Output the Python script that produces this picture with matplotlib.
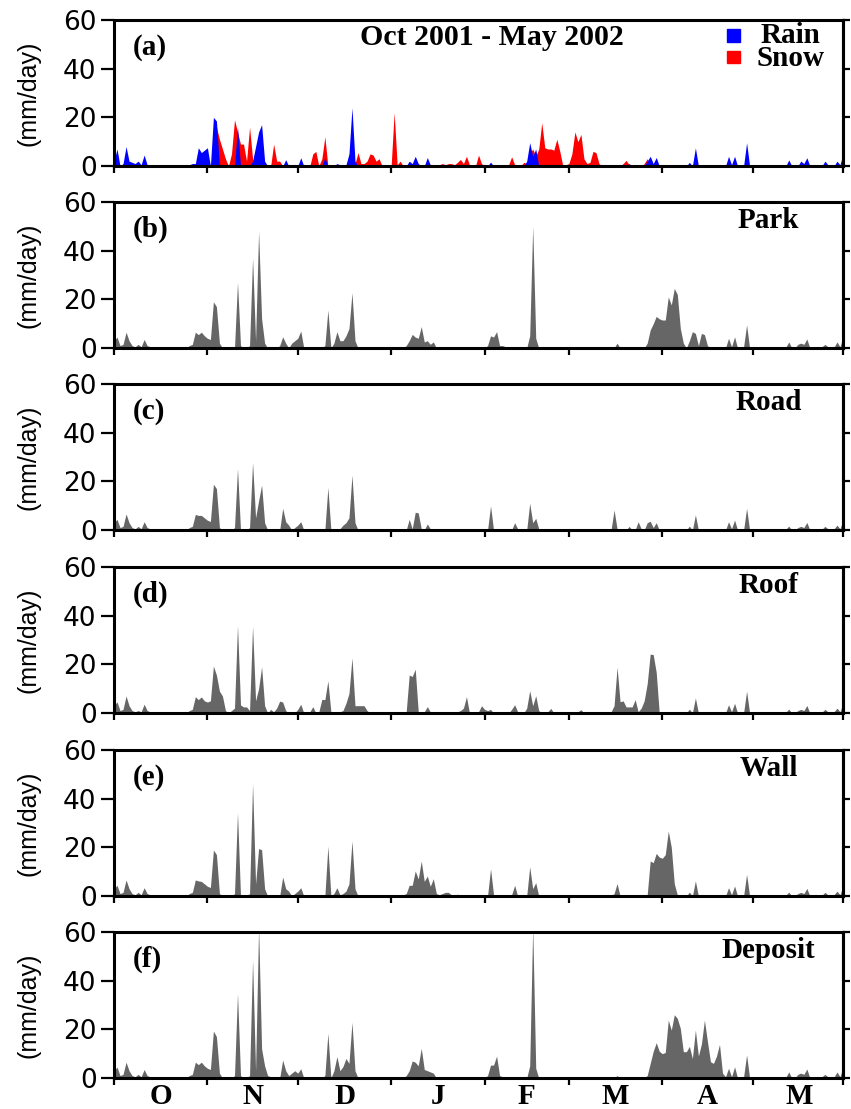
import numpy as np
import matplotlib
matplotlib.use("Agg")
import matplotlib.pyplot as plt
from matplotlib.patches import Rectangle

# Daily values (mm/day), 1 Oct 2001 .. 31 May 2002, one row per month
rain = [
    2, 7, 0, 1, 8, 2, 1.5, 1, 2, 0.5, 4.5, 0.5, 0, 0, 0.5, 0.3, 0, 0, 0, 0, 0, 0, 0, 0, 0, 0.5, 1, 1, 7.5, 5.5, 6.5,
    7.5, 0, 20, 18.5, 0, 0, 0, 0, 0, 0, 16, 0, 0, 0, 0, 2, 8, 14, 17, 2, 0, 0, 0, 0, 0, 0, 2.6, 0, 0, 0,
    0, 3.4, 0, 0, 0, 0, 0, 0, 0, 3.4, 0, 0, 0, 1, 0.5, 0, 0.5, 5, 24, 2, 0, 0, 0, 0, 0, 0, 0, 0, 0, 0, 0,
    0, 0, 0, 0, 0, 0, 2, 1, 4, 1, 0, 0, 3.5, 0.5, 0, 0, 0, 0, 0, 0, 0, 0, 0, 0, 0, 0, 0, 0, 0, 0, 0,
    0, 0, 1.6, 0, 0, 0, 0, 0, 0, 0, 0, 0, 0, 0, 2, 9.6, 4, 7, 0, 0, 0, 0, 0, 0, 0, 0, 0, 0,
    0, 0, 0, 0, 0, 0, 0, 0, 0, 0, 0, 0, 0, 0, 0, 0, 0, 0, 0, 0, 1, 0, 0, 0, 0, 0, 2, 4, 1, 3.5, 0,
    0, 0, 0, 0, 0, 0.3, 0, 0, 0, 1.5, 0, 7.5, 0, 0, 0, 0, 0, 0, 0, 0, 0, 0, 4, 0.5, 4, 0, 0, 0, 9.6, 0,
    0, 0.3, 0, 0, 0.3, 0, 0, 0, 0, 0, 0, 0, 2.5, 0, 0, 0, 2, 1, 3.4, 0, 0, 0, 0, 0, 2, 0.5, 0, 0, 2, 0.5, 5,
]
snow = [
    0, 0, 0, 0, 0, 0, 0, 0, 0, 0, 0, 0, 0, 0, 0, 0, 0, 0, 0, 0, 0, 0, 0, 0, 0, 0, 0, 0, 0, 0, 0,
    0, 0, 0, 16, 11, 7, 3, 0, 5, 19, 14, 9, 9, 2, 16, 3, 0, 0, 0, 0, 0, 0, 9, 2, 2, 0, 0, 0, 0, 0,
    0, 0, 0, 0, 0, 5, 6, 0, 3, 12, 0, 0, 0, 0, 0, 0, 0, 0, 0, 1, 5.5, 1, 1, 2, 5, 4.5, 2, 3, 0, 0, 0,
    0, 22, 0.5, 2, 0, 0, 0, 0, 0, 0, 0, 0, 0, 0, 0, 0, 0.5, 1, 0.5, 1, 1, 0.5, 1.5, 2.7, 1, 4, 0.5, 0, 0, 4.5, 1,
    0, 0, 0, 0, 0, 0, 0, 0, 0.5, 3.8, 0.5, 0, 0, 1.5, 1, 5, 7, 4, 7, 17.8, 7.5, 7, 7, 6.5, 11, 6, 0, 0.5,
    1, 5, 14, 10, 13, 3, 1, 1.5, 6, 5.5, 1, 0, 0, 0.3, 0, 0, 0, 0, 1, 2.3, 0.5, 0, 0, 0, 0, 1, 3, 0.5, 0, 0, 0,
    0, 0, 0, 0.5, 0, 0, 0, 0.3, 0, 0, 0, 0, 0, 0, 0, 0, 0, 0, 0, 0, 0, 0, 0, 0, 0, 0, 0, 0, 0, 0,
    0, 0, 0, 0, 0, 0, 0, 0, 0, 0, 0, 0, 0, 0, 0, 0, 0, 0, 0, 0, 0, 0, 0, 0, 0, 0, 0, 0, 0, 0, 0,
]
park = [
    3, 4.5, 1, 1.5, 6.5, 3, 1, 0.5, 1.5, 0.5, 3.5, 1, 0.5, 0.3, 0, 0, 0, 0, 0, 0, 0, 0, 0, 0, 0, 1, 1.5, 6.5, 5.5, 6.5, 5,
    4, 3.5, 19, 17, 2, 0, 0, 0, 0, 0, 27, 1, 0, 0, 1, 37, 3, 48, 12, 2, 0, 0, 0, 0, 1, 4.6, 2, 0, 2, 3,
    4, 7, 0, 0, 0, 0, 0, 0, 0, 1, 15.6, 0, 2, 6.7, 3, 3, 5, 8, 22.7, 3, 0, 0, 0, 0, 0, 0, 0, 0, 0, 0, 0,
    0, 0, 0, 0, 0, 1, 3, 5.6, 4.5, 4, 8.8, 2.5, 3, 1.5, 2.5, 0, 0, 0, 0, 0, 0, 0, 0, 0, 0, 0, 0, 0, 0, 0, 0,
    0, 1, 5, 4.5, 6.7, 1, 1, 0.5, 0, 0, 0, 0, 0, 0, 0, 5, 50, 4, 0, 0, 0, 0, 0, 0, 0, 0, 0, 0,
    0, 0, 0, 0, 0, 0, 0, 0, 0, 0, 0, 0, 0, 0, 0, 0, 2, 0, 0, 0, 0, 0, 0, 0, 0, 0, 2, 7.4, 10, 13, 12,
    11.5, 11.5, 21, 17.7, 24.5, 22, 8, 2, 0, 3, 6.7, 6, 1, 6, 5.5, 1, 0, 0, 0, 0, 0, 0, 4, 0.5, 4.6, 0, 0, 0.5, 9.5, 0,
    0, 0, 0, 0, 0.3, 0, 0, 0, 0, 0, 0, 0.3, 2.5, 0, 0, 1.5, 2, 1.5, 3.7, 0, 0, 0, 0, 0.5, 1.5, 0.5, 0, 0.3, 2.5, 0.5, 4.6,
]
road = [
    3, 4.4, 1, 1.5, 6.6, 3, 1, 0.5, 1.5, 0.5, 3.4, 1, 0.5, 0.3, 0, 0, 0, 0, 0, 0, 0, 0, 0, 0, 0, 1, 1.5, 6.4, 6, 6, 5,
    4, 3.5, 18.8, 17, 1, 0, 0, 0, 0, 1, 25.3, 0, 0, 0, 1, 27.8, 5, 12, 18.5, 3, 0, 0, 0, 0, 0, 8.9, 3.4, 2, 0, 1,
    2, 3.4, 0, 0, 0, 0, 0, 0, 0, 0, 17.5, 0, 0, 0.5, 0.5, 2, 3, 5, 22.6, 3, 0, 0, 0, 0, 0, 0, 0, 0, 0, 0, 0,
    0, 0, 0, 0, 0, 0, 4.4, 0.5, 7.3, 7, 0.5, 0, 2.5, 0.5, 0, 0, 0, 0, 0.3, 0.3, 0, 0, 0, 0, 0, 0, 0, 0, 0, 0, 0,
    0, 0, 9.9, 0, 0, 0, 0, 0, 0, 0, 3, 0.5, 0, 0, 0, 11, 3, 4.8, 0.5, 0, 0, 0, 0, 0, 0.3, 0, 0, 0,
    0, 0, 0, 0.3, 0, 0, 0, 0, 0, 0, 0, 0, 0, 0, 0, 8.2, 0.5, 0, 0, 0, 1.5, 0, 0, 3.4, 0.5, 0, 3, 3.6, 1, 3, 0,
    0, 0, 0, 0.3, 0, 0, 0, 0, 0, 1.6, 0, 6.2, 0, 0, 0, 0, 0, 0, 0, 0, 0, 0, 3.4, 0.5, 4.1, 0, 0, 0, 8.9, 0,
    0, 0, 0, 0, 0.3, 0, 0, 0, 0, 0, 0, 0.3, 1.6, 0, 0, 1, 1.5, 1, 3.1, 0, 0, 0, 0, 0.3, 1.5, 0.5, 0, 0.5, 2, 0.5, 4.1,
]
roof = [
    3, 4.6, 1, 1.5, 7, 3, 1, 0.5, 1, 0.5, 3.6, 1, 0.5, 0.3, 0, 0, 0, 0, 0, 0, 0, 0, 0, 0, 0, 1, 1.5, 6.7, 5.5, 6.6, 5,
    4.5, 5, 19.3, 15.6, 9, 7, 1, 0, 1, 2, 36, 3.3, 2.5, 2.5, 1, 35.7, 5, 10, 19, 3, 0, 1.5, 0.5, 2, 4.9, 4.5, 1, 0, 0, 0,
    1.5, 3.6, 0, 0, 0.5, 2.6, 0, 0.5, 5.6, 5.5, 13.2, 0.5, 0.5, 0.5, 0.5, 1, 4, 8, 22.7, 3, 3, 3, 3, 1, 0, 0, 0, 0, 0, 0, 0,
    0, 0, 0, 0, 0, 0.5, 15.6, 15, 18, 0.5, 0, 0.5, 2.6, 0.5, 0.5, 0.5, 0.5, 0.5, 0.5, 0.5, 0.5, 0.5, 0.5, 1, 2, 6.7, 0, 0, 0.3, 0.5, 3,
    1.5, 1, 1.5, 0, 0, 0, 0, 0, 0, 1.5, 3.4, 0.5, 0, 0, 2, 9.2, 3, 7.1, 1, 0, 0, 0.5, 1.9, 0, 0, 0, 0, 0,
    0, 0, 0, 0.5, 1.4, 0, 0, 0, 0, 0, 0, 0, 0, 0, 0.5, 3, 18.8, 4.6, 5, 2.5, 2.5, 2.5, 5.5, 0.5, 2, 5, 12, 24.2, 24, 16.7, 0,
    0, 0, 0, 0.3, 0, 0, 0, 0, 0, 1.6, 0, 6.2, 0, 0, 0, 0, 0, 0, 0, 0, 0, 0, 3.4, 0.5, 4, 0, 0, 0, 9, 0,
    0, 0, 0, 0, 0.3, 0, 0, 0, 0, 0, 0, 0.3, 1.6, 0, 0, 1, 1.5, 1, 3.1, 0, 0, 0, 0, 0.3, 1.5, 0.5, 0, 0.5, 2, 0.5, 4.1,
]
wall = [
    3, 4.4, 1, 1.5, 6.6, 3, 1, 0.5, 1.5, 0.5, 3.4, 1, 0.5, 0.3, 0, 0, 0, 0, 0, 0, 0, 0, 0, 0, 0, 1, 1.5, 6.6, 6.2, 6, 5,
    4, 3.5, 18.9, 17, 1, 0, 0, 0, 0, 1, 34.2, 0, 0, 0, 1, 46.2, 5, 19.5, 19, 3, 0, 0, 0, 0, 0, 7.8, 3, 2, 0, 1,
    2, 3.4, 0, 0, 0, 0, 0, 0, 0, 0, 20.5, 0, 1, 3.4, 0.5, 1, 2, 5, 22.6, 3, 0, 0, 0, 0, 0, 0, 0, 0, 0, 0, 0,
    0, 0, 0, 0, 0.5, 1, 4.4, 4.4, 10.3, 7, 14.4, 6, 8.2, 4, 7.1, 1, 0.5, 1, 1.5, 1.5, 0.5, 0, 0.8, 0, 0, 0, 0, 0, 0, 0, 0,
    0, 0, 11.2, 0.5, 0, 0, 0, 0, 0, 0.5, 4.4, 0, 0, 0, 0, 12, 3, 5.5, 0, 0, 0, 0, 0, 0, 0, 0, 0, 0,
    0, 0, 0, 0, 0, 0, 0, 0, 0, 0, 0, 0, 0, 0, 0, 1, 5.1, 0, 0, 0, 0, 0, 0, 0, 0, 0, 0.5, 14.4, 13.7, 17.5, 16,
    15.5, 17, 26.7, 20, 5, 0.5, 0, 0, 0, 1.6, 0, 6.2, 0, 0, 0, 0, 0, 0, 0, 0, 0, 0, 3.4, 0.5, 4.1, 0, 0, 0, 8.9, 0,
    0, 0, 0, 0, 0.3, 0, 0, 0, 0, 0, 0, 0.3, 1.6, 0, 0, 1, 1.5, 1, 3.1, 0, 0, 0, 0, 0.3, 1.5, 0.5, 0, 0.5, 2, 0.5, 4.1,
]
deposit = [
    3, 4.5, 1, 1.5, 6.5, 3, 1, 0.5, 1.5, 0.5, 3.5, 1, 0.5, 0.3, 0, 0, 0, 0, 0, 0, 0, 0, 0, 0, 0, 1, 1.5, 6.5, 5.5, 6.5, 5,
    4, 3.5, 19.3, 17, 2, 0, 0, 0, 0, 1, 34.8, 1, 0, 0, 1, 48.5, 3, 62, 12, 5, 1, 0.5, 0.5, 0, 0, 7.4, 3, 1, 2, 3,
    2, 3.8, 0, 0, 0, 0, 0, 0, 0, 1, 18.4, 0, 3, 8.8, 3, 4.7, 8, 6, 22.9, 3, 0, 0, 0, 0, 0, 0, 0, 0, 0, 0, 0,
    0, 0, 0, 0, 0, 1, 3, 7, 6.5, 5, 12.2, 3.5, 3, 2.5, 2, 0, 0, 0, 0, 0, 0, 0, 0, 0, 0, 0, 0, 0, 0, 0, 0,
    0, 1, 5.3, 5.3, 9, 1, 0.5, 0, 0, 0, 0, 0, 0, 0, 0, 5, 62, 4, 0, 0, 0, 0, 0, 0, 0, 0, 0, 0,
    0, 0, 0, 0, 0, 0, 0, 0, 0, 0, 0, 0, 0, 0, 0, 0, 1, 0, 0, 0, 0, 0, 0, 0, 0, 0, 1, 6, 11, 14.5, 11,
    10, 10.5, 23.8, 19.7, 26, 24.5, 20.4, 10.8, 10.8, 13, 8, 19.7, 9, 14, 23.8, 15, 6.7, 6, 9, 13.8, 2, 0.5, 4, 0.5, 4.6, 0, 0, 0.5, 9.5, 0,
    0, 0, 0, 0, 0.3, 0, 0, 0, 0, 0, 0, 0.3, 2.5, 0, 0, 1.5, 2, 1.5, 3.7, 0, 0, 0, 0, 0.5, 1.5, 0.5, 0, 0.3, 2.5, 0.5, 4.6,
]

month_letters = ["O", "N", "D", "J", "F", "M", "A", "M"]
month_lengths = [31, 30, 31, 31, 28, 31, 30, 31]
site_names = ["Park", "Road", "Roof", "Wall", "Deposit"]
panel_tags = ["(a)", "(b)", "(c)", "(d)", "(e)", "(f)"]

for series in (rain, snow, park, road, roof, wall, deposit):
    assert len(series) == sum(month_lengths)

SERIF = "Liberation Serif"
SANS = "Liberation Sans"
plt.rcParams["font.family"] = SANS
plt.rcParams["axes.linewidth"] = 2.2

GREY = "#666666"
days = np.arange(sum(month_lengths))
edges = np.concatenate([[0], np.cumsum(month_lengths)])
edges[-1] = days[-1]
centers = (edges[:-1] + np.cumsum(month_lengths)) / 2.0

W, H = 851, 1109
fig = plt.figure(figsize=(W / 100, H / 100), dpi=100)

left, width = 114 / W, 729 / W
panel_h = 146
tops = [20, 202, 384, 567, 750, 932]

label_kw = dict(fontfamily=SERIF, fontweight="bold", fontsize=21)

axes = []
for i, top in enumerate(tops):
    ax = fig.add_axes([left, 1 - (top + panel_h) / H, width, panel_h / H])
    axes.append(ax)
    ax.set_xlim(0, days[-1])
    ax.set_ylim(0, 60)
    ax.set_yticks([0, 20, 40, 60])
    ax.set_xticks(edges)
    ax.tick_params(axis="y", direction="out", length=9.5, width=1.6,
                   labelsize=19, pad=3)
    for lab in ax.get_yticklabels():
        lab.set_fontfamily("DejaVu Sans")
    ax.tick_params(axis="x", direction="out", length=5, width=1.6,
                   labelbottom=False)
    right = ax.secondary_yaxis("right")
    right.set_yticks([0, 20, 40, 60])
    right.tick_params(direction="out", length=5, width=1.6, labelright=False)
    ax.set_ylabel("(mm/day)", fontsize=18)
    ax.yaxis.set_label_coords(-0.1015, 0.5)
    ax.text(0.026, 0.762, panel_tags[i], transform=ax.transAxes,
            ha="left", va="baseline", **label_kw)

# (a) precipitation split into snow and rain
ax = axes[0]
ax.fill_between(days, 0, snow, color="#ff0000", lw=0)
ax.fill_between(days, 0, rain, color="#0000ff", lw=0)
ax.text(0.519, 0.829, "Oct 2001 - May 2002", transform=ax.transAxes,
        ha="center", va="baseline", fontfamily=SERIF, fontweight="bold",
        fontsize=21.5)
ax.add_patch(Rectangle((0.8413, 0.851), 0.0174, 0.085, color="#0000ff",
                       transform=ax.transAxes, clip_on=False))
ax.add_patch(Rectangle((0.8413, 0.703), 0.0174, 0.085, color="#ff0000",
                       transform=ax.transAxes, clip_on=False))
ax.text(0.8816, 0.685, "Rain\nSnow", transform=ax.transAxes, ha="left",
        va="baseline", multialignment="center", linespacing=0.8,
        **label_kw)

# (b)-(f) runoff at each site
for ax, name, values in zip(axes[1:], site_names,
                            (park, road, roof, wall, deposit)):
    ax.fill_between(days, 0, values, color=GREY, lw=0)
    ax.text(0.898, 0.82, name, transform=ax.transAxes, ha="center",
            va="baseline", **label_kw)

# month letters under the bottom panel
ax = axes[-1]
ax.set_xticks(centers, minor=True)
ax.set_xticklabels(month_letters, minor=True, fontfamily=SERIF,
                   fontweight="bold", fontsize=21)
ax.tick_params(axis="x", which="minor", length=0, pad=3.5,
               labelbottom=True)

fig.savefig("out.png", dpi=100)
